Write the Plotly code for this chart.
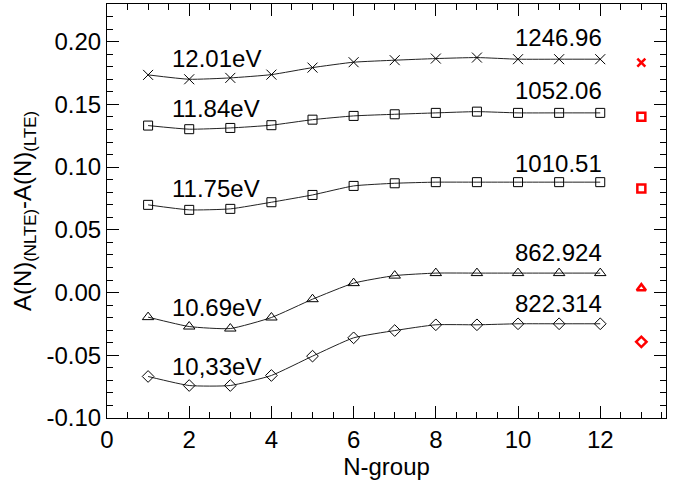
import plotly.graph_objects as go

groups = list(range(1, 13))

s1246 = [0.1735, 0.1700, 0.1711, 0.1737, 0.1793, 0.1836, 0.1852, 0.1865, 0.1873, 0.1860, 0.1860, 0.1860]
s1052 = [0.1331, 0.1302, 0.1312, 0.1334, 0.1378, 0.1408, 0.1421, 0.1432, 0.1442, 0.1432, 0.1432, 0.1432]
s1010 = [0.0699, 0.0659, 0.0667, 0.0720, 0.0778, 0.0850, 0.0871, 0.0880, 0.0880, 0.0880, 0.0880, 0.0880]
s862 = [-0.0196, -0.0271, -0.0287, -0.0199, -0.0053, 0.0075, 0.0135, 0.0155, 0.0155, 0.0155, 0.0155, 0.0155]
s822 = [-0.0669, -0.0741, -0.0741, -0.0661, -0.0507, -0.0361, -0.0303, -0.0257, -0.0257, -0.0249, -0.0249, -0.0249]

red_x = [13, 13, 13, 13, 13]
red_y = [0.1833, 0.1402, 0.0829, 0.0035, -0.0393]

wavelengths = ["1246.96", "1052.06", "1010.51", "862.924", "822.314"]
wl_y = [0.2033, 0.1611, 0.1029, 0.0316, -0.0090]
energies = ["12.01eV", "11.84eV", "11.75eV", "10.69eV", "10,33eV"]
en_y = [0.1866, 0.1464, 0.0826, -0.0122, -0.0588]

y_tickvals = [-0.10, -0.05, 0.00, 0.05, 0.10, 0.15, 0.20]
y_ticktext = ["-0.10", "-0.05", "0.00", "0.05", "0.10", "0.15", "0.20"]
x_tickvals = [0, 2, 4, 6, 8, 10, 12]
x_ticktext = ["0", "2", "4", "6", "8", "10", "12"]

series = [s1246, s1052, s1010, s862, s822]
symbols = ["x-thin-open", "square-open", "square-open", "triangle-up-open", "diamond-open"]
sizes = [10, 9, 9, 10, 9]
red_symbols = ["x-thin-open", "square-open", "square-open", "triangle-up-open", "diamond-open"]
red_sizes = [8, 8, 8, 8, 8]

FONT = "Liberation Sans, Arial, sans-serif"

fig = go.Figure()
for vals, sym, sz in zip(series, symbols, sizes):
    fig.add_trace(go.Scatter(
        x=groups, y=vals, mode="lines+markers",
        line=dict(color="#222222", width=1, shape="spline", smoothing=0.5),
        marker=dict(symbol=sym, size=sz, color="black", line=dict(color="black", width=1)),
        showlegend=False, hoverinfo="skip"))

for xx, yy, sym, sz in zip(red_x, red_y, red_symbols, red_sizes):
    fig.add_trace(go.Scatter(
        x=[xx], y=[yy], mode="markers",
        marker=dict(symbol=sym, size=sz, color="red", line=dict(color="red", width=2.5)),
        showlegend=False, hoverinfo="skip"))

for t, yy in zip(wavelengths, wl_y):
    fig.add_annotation(x=12.08, y=yy, text=t, showarrow=False, xanchor="right", yanchor="middle",
                       font=dict(family=FONT, size=24, color="black"))
for t, yy in zip(energies, en_y):
    fig.add_annotation(x=1.54, y=yy, text=t, showarrow=False, xanchor="left", yanchor="middle",
                       font=dict(family=FONT, size=24, color="black"))

axis_common = dict(
    showgrid=False, zeroline=False, showline=True, linecolor="black", linewidth=1,
    mirror="ticks", ticks="inside", tickcolor="black", tickwidth=1, ticklen=12,
    tickfont=dict(family=FONT, size=24, color="black"), automargin=False,
)

fig.update_xaxes(range=[0, 13.6], tickmode="array", tickvals=x_tickvals, ticktext=x_ticktext,
                 minor=dict(ticks="inside", ticklen=6, dtick=0.5, tick0=0, tickcolor="black", tickwidth=1),
                 title=dict(text="N-group", font=dict(family=FONT, size=24, color="black"), standoff=0),
                 **axis_common)
fig.update_yaxes(range=[-0.10, 0.23], tickmode="array", tickvals=y_tickvals, ticktext=y_ticktext,
                 minor=dict(ticks="inside", ticklen=6, dtick=0.01, tick0=0, tickcolor="black", tickwidth=1),
                 title=dict(text="A(N)<sub>(NLTE)</sub>-A(N)<sub>(LTE)</sub>",
                            font=dict(family=FONT, size=24, color="black"), standoff=8),
                 **axis_common)

fig.update_layout(
    width=677, height=488,
    margin=dict(l=107, r=11, t=4, b=70, autoexpand=False),
    paper_bgcolor="white", plot_bgcolor="white",
)

fig.write_html("out.html", config={"displayModeBar": False},
               post_script="document.body.style.margin='0';document.body.style.padding='0';")
